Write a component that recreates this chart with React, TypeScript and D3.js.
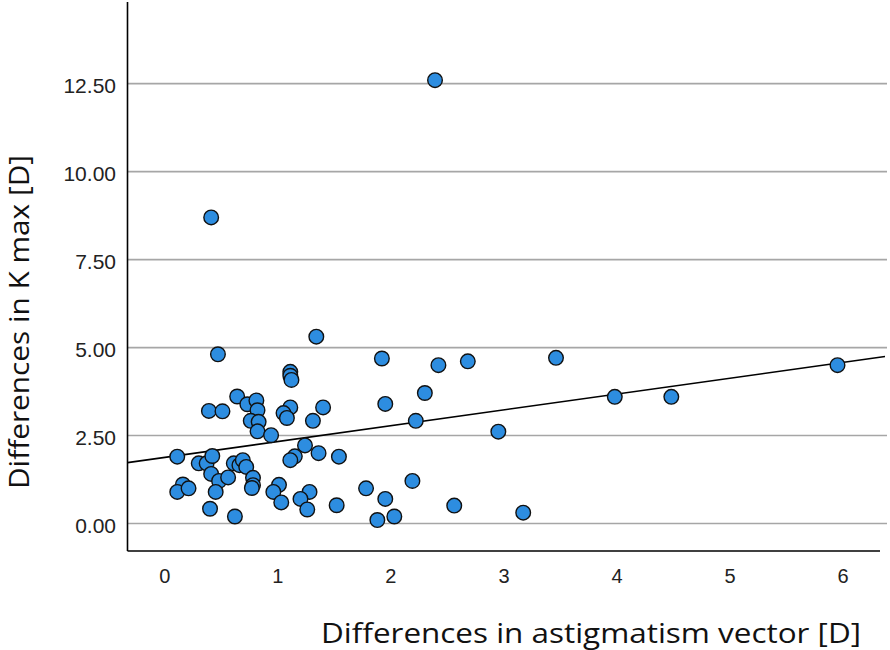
import React, { useRef, useEffect } from "react";
import * as d3 from "d3";

// differences in astigmatism vector [D]
const astigDiff = [
  2.39, 0.41, 0.47, 1.34, 1.92, 1.11, 1.11, 1.12, 0.64, 0.39, 0.51, 0.73,
  0.81, 0.82, 0.76, 0.83, 0.82, 0.94, 1.11, 1.05, 1.08, 1.4, 1.31, 1.95,
  2.22, 2.3, 2.42, 2.68, 3.46, 2.95, 3.98, 4.48, 5.95, 0.11, 0.3, 0.37,
  0.42, 0.41, 0.48, 0.56, 0.61, 0.66, 0.69, 0.72, 0.78, 0.78, 0.77, 0.16,
  0.11, 0.21, 0.45, 0.4, 0.62, 1.24, 1.15, 1.11, 1.36, 1.54, 1.01, 0.96,
  1.03, 1.28, 1.2, 1.26, 1.52, 1.78, 1.95, 1.88, 2.03, 2.19, 2.56, 3.17,
];

// differences in K max [D]
const kmaxDiff = [
  12.6, 8.7, 4.81, 5.31, 4.69, 4.31, 4.2, 4.08, 3.61, 3.2, 3.19, 3.39,
  3.5, 3.22, 2.92, 2.89, 2.62, 2.51, 3.3, 3.14, 3.0, 3.3, 2.92, 3.4,
  2.92, 3.71, 4.5, 4.61, 4.71, 2.61, 3.6, 3.6, 4.5, 1.9, 1.71, 1.71,
  1.92, 1.41, 1.21, 1.31, 1.71, 1.66, 1.8, 1.61, 1.3, 1.09, 1.01, 1.11,
  0.9, 1.0, 0.9, 0.42, 0.2, 2.22, 1.91, 1.8, 2.0, 1.9, 1.1, 0.9,
  0.6, 0.9, 0.7, 0.4, 0.52, 1.0, 0.7, 0.1, 0.2, 1.21, 0.51, 0.31,
];

const xTicks = [0, 1, 2, 3, 4, 5, 6];
const yTicks = [0, 2.5, 5, 7.5, 10, 12.5];

// fit line shown on the chart
const fitIntercept = 1.88;
const fitSlope = 0.45;

const W = 890;
const H = 650;

const App: React.FC = () => {
  const svgRef = useRef<SVGSVGElement | null>(null);

  useEffect(() => {
    if (!svgRef.current) return;
    const svg = d3.select(svgRef.current);
    svg.selectAll("*").remove();

    const x = d3.scaleLinear().domain([-0.33, 6.37]).range([127.5, 885]);
    const y = d3.scaleLinear().domain([-0.78, 14.82]).range([551, 2]);
    const [x0, x1] = x.domain();

    // gridlines
    svg
      .append("g")
      .selectAll("line")
      .data(yTicks)
      .join("line")
      .attr("x1", x.range()[0])
      .attr("x2", 887)
      .attr("y1", (d) => y(d))
      .attr("y2", (d) => y(d))
      .attr("stroke", "#a6a6a6")
      .attr("stroke-width", 1.6);

    // axes lines
    svg
      .append("line")
      .attr("x1", x(x0))
      .attr("x2", x(x0))
      .attr("y1", y.range()[1])
      .attr("y2", y.range()[0])
      .attr("stroke", "#000")
      .attr("stroke-width", 1.6);
    svg
      .append("line")
      .attr("x1", x(x0))
      .attr("x2", 880)
      .attr("y1", y.range()[0])
      .attr("y2", y.range()[0])
      .attr("stroke", "#000")
      .attr("stroke-width", 1.6);

    // tick labels
    svg
      .append("g")
      .selectAll("text")
      .data(yTicks)
      .join("text")
      .attr("x", 116)
      .attr("y", (d) => y(d) + 4)
      .attr("text-anchor", "end")
      .attr("dominant-baseline", "middle")
      .attr("font-family", '"Liberation Sans", Arial, sans-serif')
      .attr("font-size", "21px")
      .attr("fill", "#222")
      .text((d) => d3.format(".2f")(d));

    svg
      .append("g")
      .selectAll("text")
      .data(xTicks)
      .join("text")
      .attr("x", (d) => x(d))
      .attr("y", 578)
      .attr("text-anchor", "middle")
      .attr("dominant-baseline", "middle")
      .attr("font-family", '"Liberation Sans", Arial, sans-serif')
      .attr("font-size", "20px")
      .attr("fill", "#222")
      .text((d) => String(d));

    // fit line
    svg
      .append("line")
      .attr("x1", x(x0))
      .attr("y1", y(fitIntercept + fitSlope * x0))
      .attr("x2", x(x1))
      .attr("y2", y(fitIntercept + fitSlope * x1))
      .attr("stroke", "#000")
      .attr("stroke-width", 1.6);

    // points
    svg
      .append("g")
      .selectAll("circle")
      .data(astigDiff.map((v, i) => [v, kmaxDiff[i]]))
      .join("circle")
      .attr("cx", (d) => x(d[0]))
      .attr("cy", (d) => y(d[1]))
      .attr("r", 7.3)
      .attr("fill", "#2d8de0")
      .attr("stroke", "#111")
      .attr("stroke-width", 1.4);

    // axis titles
    svg
      .append("text")
      .attr("x", 591)
      .attr("y", 643)
      .attr("text-anchor", "middle")
      .attr("font-family", '"Open Sans", sans-serif')
      .attr("font-size", "28px")
      .attr("fill", "#111")
      .attr("textLength", 540)
      .attr("lengthAdjust", "spacingAndGlyphs")
      .text("Differences in astigmatism vector [D]");

    svg
      .append("text")
      .attr("transform", "translate(29,322) rotate(-90)")
      .attr("text-anchor", "middle")
      .attr("font-family", '"Open Sans", sans-serif')
      .attr("font-size", "28px")
      .attr("fill", "#111")
      .attr("textLength", 334)
      .attr("lengthAdjust", "spacingAndGlyphs")
      .text("Differences in K max [D]");
  }, []);

  return (
    <svg
      ref={svgRef}
      width={W}
      height={H}
      style={{ position: "absolute", left: 0, top: 0, background: "#fff" }}
    />
  );
};

export default App;
